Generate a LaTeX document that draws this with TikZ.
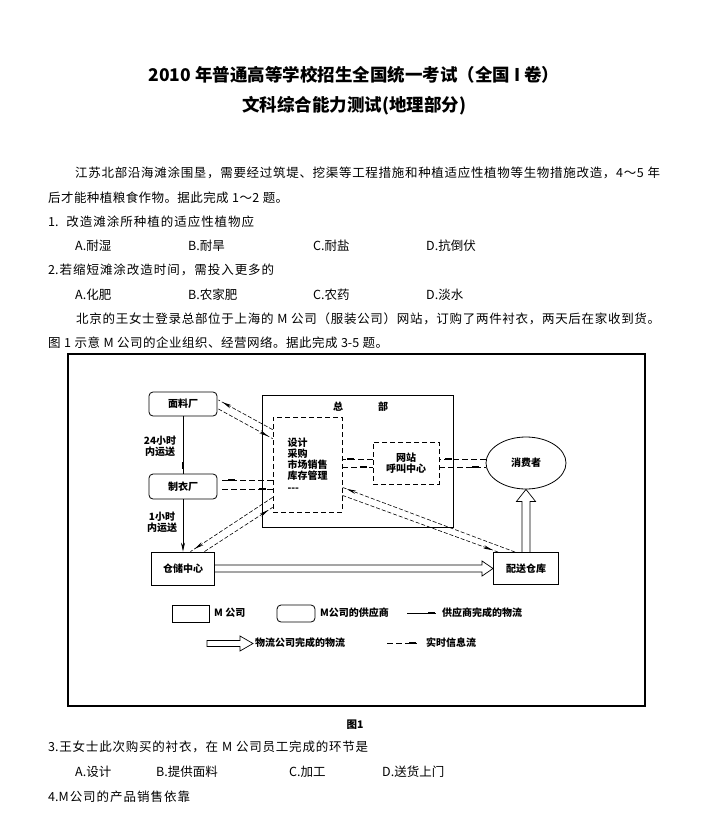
\documentclass[tikz,border=0pt]{standalone}
\usepackage{fontspec}
\setmainfont{Noto Sans CJK SC}
\usetikzlibrary{calc,arrows.meta,shapes.geometric,decorations.markings}

% CJK characters get stretchable glue between them, for lines set to a width
\makeatletter
\count@="3000
\loop\ifnum\count@<"A000 \XeTeXcharclass\count@=1 \advance\count@ 1 \repeat
\count@="FF00
\loop\ifnum\count@<"FFF0 \XeTeXcharclass\count@=1 \advance\count@ 1 \repeat
\makeatother
\XeTeXinterchartoks 1 1 = {\hskip 0pt plus 1pt\relax}
\XeTeXinterchartoks 0 1 = {\hskip 0pt plus 1pt\relax}
\XeTeXinterchartoks 1 0 = {\hskip 0pt plus 1pt\relax}
\newcommand\spreadline[2]{{\XeTeXinterchartokenstate=1 \makebox[#1][s]{#2}}}

\begin{document}
\begin{tikzpicture}[x=1pt, y=-1pt,
  every node/.style={inner sep=0pt},
  titlefont/.style={font=\fontsize{17.5}{20}\selectfont\bfseries},
  body/.style={anchor=west, font=\fontsize{12.5}{14}\selectfont},
  dfont/.style={font=\fontsize{10}{11.2}\selectfont\bfseries},
  mbox/.style={draw, line width=0.9pt, dfont},
  supplier/.style={draw, rounded corners=4pt, line width=0.8pt, dfont},
  ibox/.style={draw, dash pattern=on 5pt off 3pt, line width=0.7pt, dfont},
  infoline/.style={dash pattern=on 6pt off 3pt, line width=0.7pt},
  infodiag/.style={dash pattern=on 4pt off 2pt, line width=0.6pt},
  goodsline/.style={line width=0.7pt},
  tagat/.style={decoration={markings,
      mark=at position #1 with {\fill (-3.5pt,-1.3pt) rectangle (3.5pt,1.3pt);}},
    postaction=decorate},
  tipat/.style={decoration={markings,
      mark=at position #1 with {\arrow{Stealth[length=9pt,width=3.5pt]}}},
    postaction=decorate},
  fatarrow/.style={line width=0.7pt, line join=miter}]

  \useasboundingbox (0,0) rectangle (708,819);

  % title and text above the figure
  \node[titlefont] (title1) at (354,75)
    {2010 年普通高等学校招生全国统一考试（全国 I 卷）};
  \node[titlefont] (title2) at (354,106) {文科综合能力测试(地理部分)};

  \node[body] (para1a) at (75,173) {\spreadline{585pt}{江苏北部沿海滩涂围垦，需要经过筑堤、挖渠等工程措施和种植适应性植物等生物措施改造，4～5 年}};
  \node[body] (para1b) at (48,198) {\spreadline{240pt}{后才能种植粮食作物。据此完成 1～2 题。}};
  \node[body] (q1) at (48,222) {\spreadline{206pt}{1. 改造滩涂所种植的适应性植物应}};
  \node[body] (q1a) at (75,246)  {A.耐湿};
  \node[body] (q1b) at (188,246) {B.耐旱};
  \node[body] (q1c) at (313,246) {C.耐盐};
  \node[body] (q1d) at (426,246) {D.抗倒伏};
  \node[body] (q2) at (48,270) {\spreadline{226pt}{2.若缩短滩涂改造时间，需投入更多的}};
  \node[body] (q2a) at (75,295)  {A.化肥};
  \node[body] (q2b) at (188,295) {B.农家肥};
  \node[body] (q2c) at (313,295) {C.农药};
  \node[body] (q2d) at (426,295) {D.淡水};
  \node[body] (para2a) at (76,319) {\spreadline{584pt}{北京的王女士登录总部位于上海的 M 公司（服装公司）网站，订购了两件衬衣，两天后在家收到货。}};
  \node[body] (para2b) at (48,343) {\spreadline{340pt}{图 1 示意 M 公司的企业组织、经营网络。据此完成 3-5 题。}};

  % figure frame
  \draw[line width=1.2pt] (68,354) rectangle (645,706);

  % boxes
  \node[supplier, minimum width=68pt, minimum height=24pt] (fab) at (183,404) {面料厂};
  \node[supplier, minimum width=68pt, minimum height=25pt] (sew) at (183,486.5) {制衣厂};
  \node[mbox, minimum width=63pt, minimum height=33pt] (store) at (183,568.5) {仓储中心};
  \node[draw, line width=0.9pt, minimum width=191pt, minimum height=132pt] (hq) at (357.5,461) {};
  \node[dfont] (hqname) at (360.5,407) {总\hspace{35pt}部};
  \node[ibox, align=left, minimum width=69pt, minimum height=95pt] (mgmt) at (307.5,464.5)
    {设计\\采购\\市场销售\\库存管理\\-{}-{}-};
  \node[ibox, align=center, minimum width=66pt, minimum height=42pt] (web) at (406,463)
    {网站\\呼叫中心};
  \node[draw, ellipse, line width=0.8pt, dfont, minimum width=80pt, minimum height=52pt] (cust)
    at (526,463) {消费者};
  \node[mbox, minimum width=65pt, minimum height=32pt] (dist) at (526,568.5) {配送仓库};

  \node[dfont, align=center] (time24) at (160,446.5) {24小时\\内运送};
  \node[dfont, align=center] (time1) at (162,522.5) {1小时\\内运送};

  % goods moved by the suppliers
  \draw[goodsline, tagat=-8pt] (fab) -- (sew);
  \draw[goodsline, -{Stealth[length=9pt,width=4pt]}] (sew) -- (store);

  % goods moved by the logistics company
  \draw[fatarrow] ($(store.east)+(0,-3.5)$) -- ($(dist.west)+(-11,-3.5)$) -- ++(0,-4)
    -- (dist.west) -- ($(dist.west)+(-11,7.5)$) -- ++(0,-4) -- ($(store.east)+(0,3.5)$);
  \draw[fatarrow] ($(dist.north)+(-4,0)$) -- ($(cust.south)+(-4,12)$) -- ++(-5.5,0)
    -- (cust.south) -- ($(cust.south)+(9.5,12)$) -- ++(-5.5,0) -- ($(dist.north)+(4,0)$);

  % real-time information
  \draw[infodiag, tipat=-5pt] ($(mgmt.north west)+(0,13)$) -- ($(fab.east)+(1,-4)$);
  \draw[infodiag, tipat=-5pt] ($(fab.east)+(1,5)$) -- ($(mgmt.north west)+(0,22)$);
  \draw[infoline, tagat=-9pt] ($(mgmt.west)+(0,15.5)$) -- ($(sew.east)+(5,-6.5)$);
  \draw[infoline, tagat=-10pt] ($(sew.east)+(5,2.5)$) -- ($(mgmt.west)+(0,24.5)$);
  \draw[infodiag, tipat=-5pt] ($(mgmt.south west)+(0,-15)$) -- ($(store.north)+(7.5,0)$);
  \draw[infodiag, tipat=-5pt] ($(store.north)+(21.5,0)$) -- ($(mgmt.south west)+(0,-5)$);
  \draw[infoline, tagat=-8pt] ($(web.west)+(0,-4)$) -- ($(mgmt.east)+(0,-5.5)$);
  \draw[infoline, tagat=-9pt] ($(mgmt.east)+(0,2.5)$) -- ($(web.west)+(0,4)$);
  \draw[infoline, tagat=-9pt] ($(cust.west)+(0,-4)$) -- ($(web.east)+(0,-4)$);
  \draw[infoline, tagat=-10pt] ($(web.east)+(0,4)$) -- ($(cust.west)+(0,4)$);
  \draw[infodiag, tipat=-5pt] ($(dist.north west)+(22,0)$) -- ($(mgmt.south east)+(0,-25)$);
  \draw[infodiag, tipat=-6pt] ($(mgmt.south east)+(0,-17)$) -- ($(dist.north west)+(5,0)$);

  % legend
  \node[draw, line width=0.8pt, minimum width=37pt, minimum height=17pt] (keyM) at (190.5,613.5) {};
  \node[dfont, anchor=west] (keyMtext) at (214,613) {M 公司};
  \node[supplier, minimum width=38pt, minimum height=17pt] (keyS) at (296,613.5) {};
  \node[dfont, anchor=west] (keyStext) at (320,613) {M公司的供应商};
  \coordinate (keyG0) at (407,613);
  \coordinate (keyG1) at (436,613);
  \draw[goodsline, tagat=-5pt] (keyG0) -- (keyG1);
  \node[dfont, anchor=west] (keyGtext) at (442,613) {供应商完成的物流};
  \coordinate (keyL) at (207,643.5);
  \draw[fatarrow] (keyL) ++(0,-3) -- ++(33,0) -- ++(0,-4.5) -- ++(13,7.5) -- ++(-13,7.5)
    -- ++(0,-4.5) -- ++(-33,0) -- cycle;
  \node[dfont, anchor=west] (keyLtext) at (255,643) {物流公司完成的物流};
  \coordinate (keyI0) at (387,643);
  \coordinate (keyI1) at (417,643);
  \draw[infoline, tagat=-5pt] (keyI0) -- (keyI1);
  \node[dfont, anchor=west] (keyItext) at (426,643) {实时信息流};

  % caption and text below the figure
  \node[font=\fontsize{10.5}{12}\selectfont\bfseries] (caption) at (355,725) {图1};
  \node[body] (q3) at (48,747) {\spreadline{320pt}{3.王女士此次购买的衬衣，在 M 公司员工完成的环节是}};
  \node[body] (q3a) at (75,772)  {A.设计};
  \node[body] (q3b) at (156,772) {B.提供面料};
  \node[body] (q3c) at (289,772) {C.加工};
  \node[body] (q3d) at (382,772) {D.送货上门};
  \node[body] (q4) at (48,797) {\spreadline{142pt}{4.M公司的产品销售依靠}};

\end{tikzpicture}
\end{document}
